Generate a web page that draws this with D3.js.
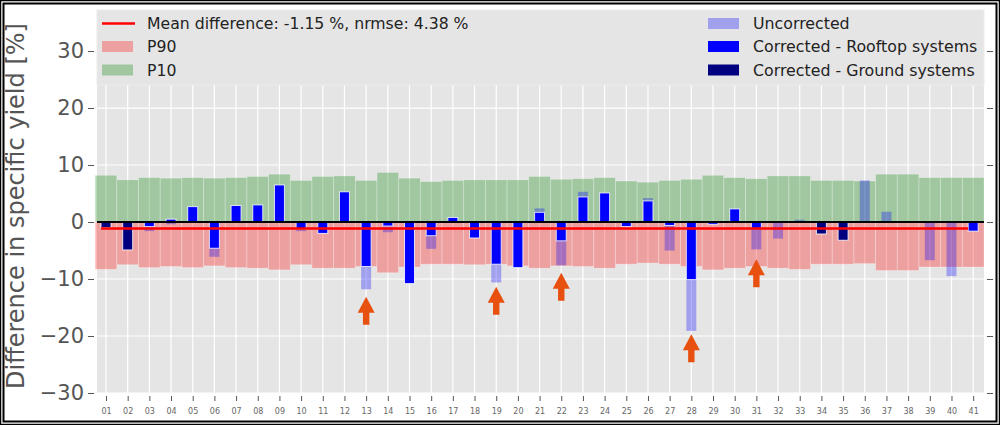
<!DOCTYPE html>
<html>
<head>
<meta charset="utf-8">
<script src="https://cdn.jsdelivr.net/npm/d3@7"></script>
<style>
  body { margin: 0; background: #fff; }
  text { font-family: "DejaVu Sans", sans-serif; }
</style>
</head>
<body>
<script>
// site labels on the x axis
const sites = d3.range(1, 42)
const siteLabels = sites.map(function (d) { return (d < 10 ? '0' : '') + d })

// P10 / P90 bands per site [%]
const p10 = [8.2, 7.4, 7.8, 7.7, 7.8, 7.7, 7.8, 8.0, 8.4, 7.3,
             8.0, 8.1, 7.3, 8.7, 7.7, 7.1, 7.3, 7.4, 7.4, 7.4,
             8.0, 7.5, 7.6, 7.8, 7.2, 7.0, 7.3, 7.5, 8.2, 7.8,
             7.6, 8.1, 8.1, 7.3, 7.3, 7.2, 8.4, 8.4, 7.8, 7.8, 7.8]
const p90 = [-8.3, -7.5, -8.0, -7.8, -8.0, -7.7, -8.0, -8.1, -8.4, -7.5,
             -8.1, -8.1, -7.8, -8.9, -7.9, -7.4, -7.4, -7.5, -7.4, -7.7,
             -8.1, -7.7, -7.8, -8.1, -7.4, -7.2, -7.4, -7.8, -8.4, -8.1,
             -7.8, -8.1, -8.3, -7.4, -7.4, -7.3, -8.5, -8.5, -7.9, -7.9, -7.9]

// uncorrected difference (null = not shown)
const uncorrected = [null, null, -1.6, -0.4, null, -6.1, null, null, null, -1.6,
                     null, null, -11.8, -1.8, null, -4.7, null, null, -10.6, null,
                     2.4, -7.6, 5.3, null, null, 4.2, -5.0, -19.1, null, null,
                     -4.8, -2.9, 0.4, null, null, 7.3, 1.8, null, -6.7, -9.5, null]

// corrected difference (null = not shown), system type R = rooftop, G = ground
const corrected = [-1.0, -4.9, -0.8, 0.5, 2.7, -4.6, 2.9, 3.0, 6.5, -1.2,
                   -2.0, 5.3, -7.8, -0.7, -10.8, -2.4, 0.8, -2.8, -7.4, -8.0,
                   1.7, -3.3, 4.4, 5.1, -0.8, 3.7, -0.6, -10.1, -0.4, 2.3,
                   -1.1, null, null, -2.1, -3.2, null, null, null, null, null, -1.6]
const systemType = ['G', 'G', 'R', 'R', 'R', 'R', 'R', 'R', 'R', 'R',
                    'R', 'R', 'R', 'R', 'R', 'R', 'R', 'R', 'R', 'R',
                    'R', 'R', 'R', 'R', 'R', 'R', 'R', 'R', 'R', 'R',
                    'R', '', '', 'G', 'G', '', '', '', '', '', 'R']

const meanDiff = -1.15
const yTicks = [-30, -20, -10, 0, 10, 20, 30]

// highlighted sites (arrow tip value)
const arrowSites = [13, 19, 22, 28, 31]
const arrowTips = [-13.1, -11.35, -8.9, -19.7, -6.55]

document.addEventListener('DOMContentLoaded', init)

function init() {
  var margin = {top: 10, right: 16, bottom: 32, left: 97}
    , width = 1000 - margin.left - margin.right
    , height = 425 - margin.top - margin.bottom;

  var x = d3.scaleLinear()
      .domain([0.585, 41.5])
      .range([0, width]);

  var y = d3.scaleLinear()
      .domain([-30, 37.2])
      .range([height, 0]);

  var unit = x(2) - x(1);

  var chart = d3.select('body')
      .append('svg')
      .attr('width', 1000)
      .attr('height', 425);

  var main = chart.append('g')
      .attr('transform', 'translate(' + margin.left + ',' + margin.top + ')');

  main.append('rect')
    .attr('width', width)
    .attr('height', height)
    .attr('fill', '#e5e5e5');

  // grid
  main.selectAll('.vgrid')
    .data(sites)
    .enter().append('line')
    .attr('x1', function (d) { return x(d); })
    .attr('x2', function (d) { return x(d); })
    .attr('y1', 0).attr('y2', height)
    .attr('stroke', '#fff').attr('stroke-width', 1.2);

  main.selectAll('.hgrid')
    .data(yTicks)
    .enter().append('line')
    .attr('x1', 0).attr('x2', width)
    .attr('y1', function (d) { return y(d); })
    .attr('y2', function (d) { return y(d); })
    .attr('stroke', '#fff').attr('stroke-width', 1.2);

  // axes
  var xAxis = d3.axisBottom(x)
      .tickValues(sites)
      .tickFormat(function (d, i) { return siteLabels[i]; })
      .tickSize(5).tickPadding(7);

  var xg = main.append('g')
    .attr('transform', 'translate(0,' + (height + 3) + ')')
    .call(xAxis);
  xg.select('.domain').remove();
  xg.selectAll('line').attr('stroke', '#555');
  xg.selectAll('text').attr('font-size', 8).attr('fill', '#666')
    .attr('font-family', '"DejaVu Sans", sans-serif');

  var yAxis = d3.axisLeft(y)
      .tickValues(yTicks)
      .tickFormat(function (d) { return d < 0 ? '\u2212' + (-d) : d; })
      .tickSize(6).tickPadding(4);

  var yg = main.append('g')
    .attr('transform', 'translate(-3,0)')
    .call(yAxis);
  yg.select('.domain').remove();
  yg.selectAll('line').attr('stroke', '#555');
  yg.selectAll('text').attr('font-size', 21).attr('fill', '#555')
    .attr('font-family', '"DejaVu Sans", sans-serif');

  var yr = main.append('g')
    .attr('transform', 'translate(' + (width + 3) + ',0)')
    .call(d3.axisRight(y).tickValues(yTicks).tickSize(6).tickFormat(''));
  yr.select('.domain').remove();
  yr.selectAll('line').attr('stroke', '#555');

  // P10 / P90 bands
  main.selectAll('.p10')
    .data(sites)
    .enter().append('rect')
    .attr('x', function (d) { return x(d) - unit / 2; })
    .attr('width', unit)
    .attr('y', function (d, i) { return y(p10[i]); })
    .attr('height', function (d, i) { return y(0) - y(p10[i]); })
    .attr('fill', 'green').attr('fill-opacity', 0.3)
    .attr('stroke', '#fff').attr('stroke-opacity', 0.35).attr('stroke-width', 0.8);

  main.selectAll('.p90')
    .data(sites)
    .enter().append('rect')
    .attr('x', function (d) { return x(d) - unit / 2; })
    .attr('width', unit)
    .attr('y', y(0))
    .attr('height', function (d, i) { return y(p90[i]) - y(0); })
    .attr('fill', 'red').attr('fill-opacity', 0.3)
    .attr('stroke', '#fff').attr('stroke-opacity', 0.35).attr('stroke-width', 0.8);

  var bw = unit * 0.46;

  // uncorrected
  var unc = sites.filter(function (d, i) { return uncorrected[i] !== null; });
  main.selectAll('.unc')
    .data(unc)
    .enter().append('rect')
    .attr('x', function (d) { return x(d) - bw / 2; })
    .attr('width', bw)
    .attr('y', function (d) { return y(Math.max(0, uncorrected[d - 1])); })
    .attr('height', function (d) { return Math.abs(y(uncorrected[d - 1]) - y(0)); })
    .attr('fill', 'blue').attr('fill-opacity', 0.3);

  // corrected
  var cor = sites.filter(function (d, i) { return corrected[i] !== null; });
  main.selectAll('.cor')
    .data(cor)
    .enter().append('rect')
    .attr('x', function (d) { return x(d) - bw / 2; })
    .attr('width', bw)
    .attr('y', function (d) { return y(Math.max(0, corrected[d - 1])); })
    .attr('height', function (d) { return Math.abs(y(corrected[d - 1]) - y(0)); })
    .attr('fill', function (d) { return systemType[d - 1] === 'G' ? '#000080' : '#0000ff'; })
    .attr('stroke', '#fff').attr('stroke-opacity', 0.8).attr('stroke-width', 1);

  // zero line
  main.append('line')
    .attr('x1', 0).attr('x2', width)
    .attr('y1', y(0)).attr('y2', y(0))
    .attr('stroke', '#000').attr('stroke-width', 2);

  // mean difference line
  main.append('line')
    .attr('x1', x(0.77)).attr('x2', x(40.77))
    .attr('y1', y(meanDiff)).attr('y2', y(meanDiff))
    .attr('stroke', 'red').attr('stroke-width', 2.5);

  // arrows
  var arrow = d3.line()
  main.selectAll('.arrow')
    .data(arrowSites)
    .enter().append('path')
    .attr('d', function (d, i) {
      var cx = x(d), ty = y(arrowTips[i]);
      return arrow([[cx, ty], [cx + 8.5, ty + 16], [cx + 3.2, ty + 16], [cx + 3.2, ty + 28],
                    [cx - 3.2, ty + 28], [cx - 3.2, ty + 16], [cx - 8.5, ty + 16]]) + 'Z';
    })
    .attr('fill', '#e8500f');

  // legend
  var leg = main.append('g');
  leg.append('rect')
    .attr('x', 0).attr('y', 0)
    .attr('width', width).attr('height', 75)
    .attr('fill', '#e5e5e5')
    .attr('stroke', '#ececec').attr('stroke-width', 1);

  var rowY = [13.5, 36.5, 60];

  leg.append('line')
    .attr('x1', 5).attr('x2', 38)
    .attr('y1', rowY[0]).attr('y2', rowY[0])
    .attr('stroke', 'red').attr('stroke-width', 2.5);

  var leftItems = [
    {label: 'Mean difference: -1.15 %, nrmse: 4.38 %', color: null},
    {label: 'P90', color: 'rgba(255,0,0,0.3)'},
    {label: 'P10', color: 'rgba(0,128,0,0.3)'}
  ];
  var rightItems = [
    {label: 'Uncorrected', color: 'rgba(0,0,255,0.3)'},
    {label: 'Corrected - Rooftop systems', color: '#0000ff'},
    {label: 'Corrected - Ground systems', color: '#000080'}
  ];

  leftItems.forEach(function (d, i) {
    if (d.color) {
      leg.append('rect')
        .attr('x', 5).attr('y', rowY[i] - 5.5)
        .attr('width', 31).attr('height', 11)
        .attr('fill', d.color);
    }
    leg.append('text')
      .attr('x', 50).attr('y', rowY[i])
      .attr('dy', '0.36em')
      .attr('font-size', 15.7).attr('fill', '#222')
      .text(d.label);
  });

  rightItems.forEach(function (d, i) {
    leg.append('rect')
      .attr('x', 611).attr('y', rowY[i] - 5.5)
      .attr('width', 31).attr('height', 11)
      .attr('fill', d.color);
    leg.append('text')
      .attr('x', 656).attr('y', rowY[i])
      .attr('dy', '0.36em')
      .attr('font-size', 15.8).attr('fill', '#222')
      .text(d.label);
  });

  // y label
  chart.append('text')
    .attr('transform', 'translate(24,' + 206 + ') rotate(-90)')
    .attr('text-anchor', 'middle')
    .attr('font-size', 24).attr('fill', '#555')
    .text('Difference in specific yield [%]');

  // frame
  chart.append('rect')
    .attr('x', 0.5).attr('y', 0.5).attr('width', 999).attr('height', 424)
    .attr('fill', 'none').attr('stroke', '#000').attr('stroke-width', 1.5);
  chart.append('rect')
    .attr('x', 3.5).attr('y', 3.5).attr('width', 993).attr('height', 418)
    .attr('fill', 'none').attr('stroke', '#000').attr('stroke-width', 2);
}
</script>
</body>
</html>
